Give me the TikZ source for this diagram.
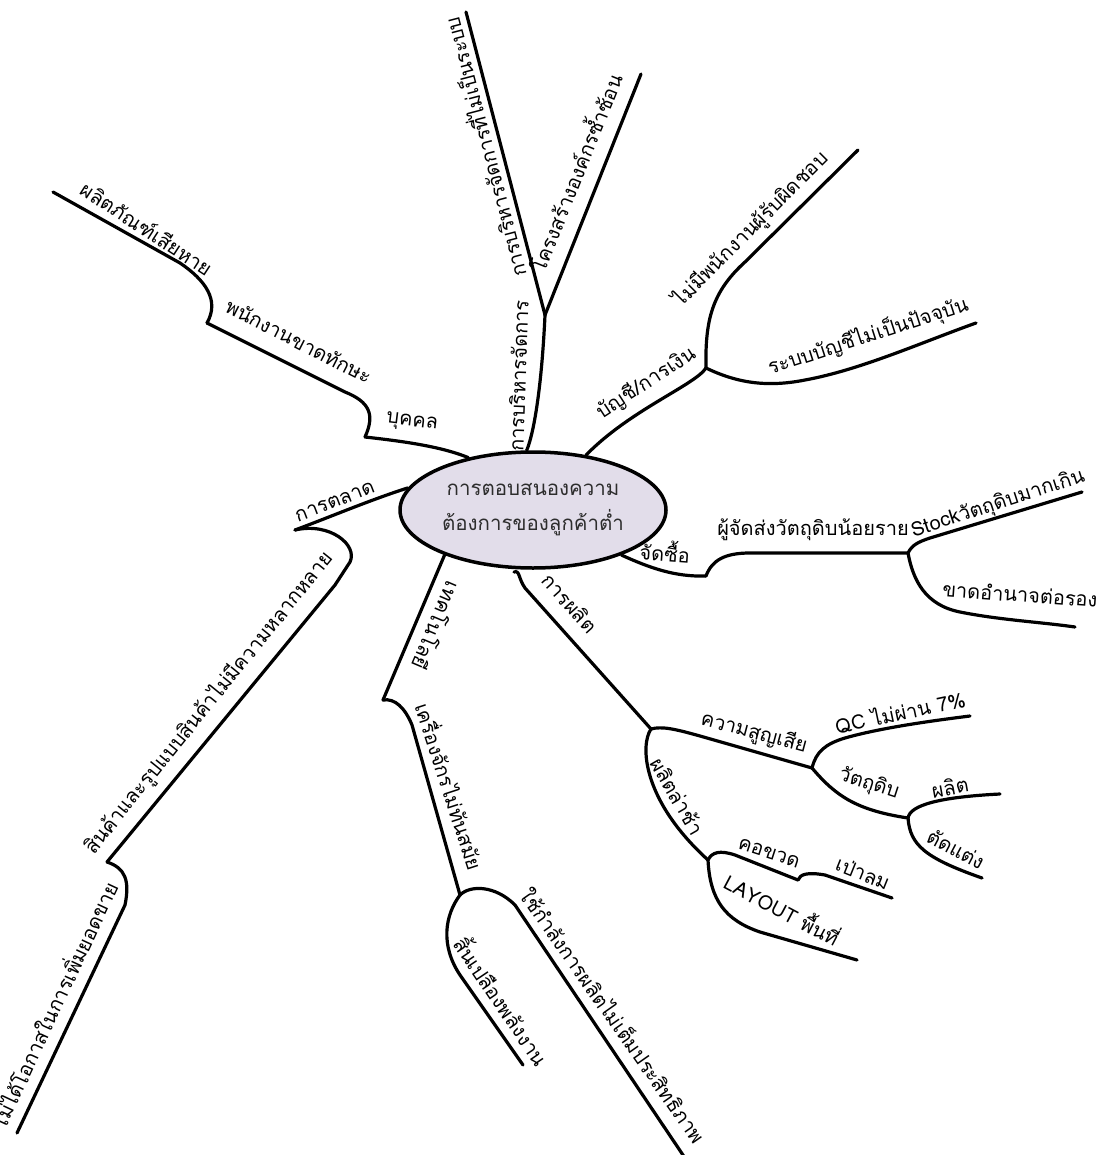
\documentclass[tikz,border=0pt]{standalone}
\usepackage{fontspec}
\newfontfamily\thaifont[Script=Thai]{Loma}
\usetikzlibrary{shapes.geometric}
\definecolor{lav}{RGB}{226,221,234}
\definecolor{inktext}{RGB}{45,45,45}
\begin{document}
\begin{tikzpicture}[x=1pt,y=-1pt,
  br/.style={line width=3.2pt, line cap=round, line join=round},
  lbl/.style={font=\thaifont\fontsize{20}{22}\selectfont, inner sep=0pt}]
\fill[white] (0,0) rectangle (1099,1155);
\useasboundingbox (0,0) rectangle (1099,1155);

% central topic
\node[draw, ellipse, line width=3.5pt, fill=lav, minimum width=266pt, minimum height=116pt,
      inner sep=0pt, align=center, text=inktext,
      font=\thaifont\fontsize{20.5}{35}\selectfont] (root) at (533,510)
      {การตอบสนองความ\\ต้องการของลูกค้าต่ำ};

% junction coordinates
\coordinate (m1) at (545,315);
\coordinate (m1a) at (466,12);
\coordinate (m1b) at (641,74);
\coordinate (f1) at (706,368);
\coordinate (fa1) at (745,262);
\coordinate (fa) at (858,150);
\coordinate (fb1) at (805,380);
\coordinate (fb) at (976,323);
\coordinate (p1) at (365,437);
\coordinate (p1b) at (345,392);
\coordinate (p2) at (207,323);
\coordinate (p2b) at (180,263);
\coordinate (p3) at (53,192);
\coordinate (k1) at (295,530);
\coordinate (k1b) at (335,585);
\coordinate (k2) at (107,862);
\coordinate (k2b) at (125,905);
\coordinate (k3) at (17,1133);
\coordinate (j1) at (706,576);
\coordinate (j1b) at (750,553);
\coordinate (j2) at (908,553);
\coordinate (j2a) at (930,538);
\coordinate (ja) at (1082,492);
\coordinate (j2b) at (960,612);
\coordinate (jb) at (1075,627);
\coordinate (pr0) at (514,572);
\coordinate (pr0b) at (525,588);
\coordinate (pr1) at (651,729);
\coordinate (pr1b) at (700,736);
\coordinate (pr2) at (812,768);
\coordinate (pr2a) at (845,738);
\coordinate (prA) at (970,716);
\coordinate (pr3) at (908,818);
\coordinate (prB) at (1000,794);
\coordinate (prC) at (982,878);
\coordinate (pr4) at (708,860);
\coordinate (pr4b) at (735,855);
\coordinate (pr5) at (798,880);
\coordinate (pr5b) at (825,875);
\coordinate (pr6) at (892,898);
\coordinate (pr4c) at (760,932);
\coordinate (pr7) at (857,960);
\coordinate (t1) at (383,700);
\coordinate (t1b) at (412,725);
\coordinate (t2) at (460,895);
\coordinate (t2b) at (460,975);
\coordinate (t3) at (523,1065);
\coordinate (t2c) at (515,905);
\coordinate (t4) at (685,1158);

% management
\draw[br] (root.96) .. controls (535,430) and (542,380) .. (m1);
\draw[br] (m1) -- (m1a);
\draw[br] (m1) -- (m1b);
% finance
\draw[br] (root.46) .. controls (630,410) and (695,385) .. (f1);
\draw[br] (f1) .. controls (705,320) and (712,292) .. (fa1) -- (fa);
\draw[br] (f1) .. controls (735,382) and (765,388) .. (fb1) .. controls (860,370) and (920,343) .. (fb);
% person
\draw[br] (p1) .. controls (400,441) and (440,446) .. (root.141);
\draw[br] (p1) .. controls (375,415) and (370,402) .. (p1b) -- (p2);
\draw[br] (p2) .. controls (220,300) and (205,280) .. (p2b) -- (p3);
% marketing
\draw[br] (k1) .. controls (330,517) and (370,500) .. (root.170);
\draw[br] (k1) .. controls (330,522) and (358,545) .. (350,562) -- (k1b) -- (k2);
\draw[br] (k2) .. controls (125,868) and (130,880) .. (k2b) -- (k3);
% purchasing
\draw[br] (root.-27) .. controls (650,568) and (675,577) .. (j1);
\draw[br] (j1) .. controls (712,560) and (725,553) .. (j1b) -- (j2);
\draw[br] (j2) .. controls (912,545) and (918,542) .. (j2a) -- (ja);
\draw[br] (j2) .. controls (913,580) and (925,605) .. (j2b) .. controls (1000,620) and (1040,622) .. (jb);
% production
\draw[br] (pr0) .. controls (520,570) and (518,578) .. (pr0b) -- (pr1);
\draw[br] (pr1) .. controls (662,726) and (675,729) .. (pr1b) -- (pr2);
\draw[br] (pr2) .. controls (816,752) and (825,744) .. (pr2a) .. controls (880,728) and (930,721) .. (prA);
\draw[br] (pr2) .. controls (835,795) and (855,810) .. (pr3);
\draw[br] (pr3) .. controls (910,805) and (940,797) .. (prB);
\draw[br] (pr3) .. controls (910,845) and (925,858) .. (prC);
\draw[br] (pr1) .. controls (640,745) and (642,800) .. (pr4);
\draw[br] (pr4) .. controls (712,852) and (720,850) .. (pr4b) -- (pr5);
\draw[br] (pr5) .. controls (800,874) and (808,872) .. (pr5b) -- (pr6);
\draw[br] (pr4) .. controls (710,900) and (725,920) .. (pr4c) -- (pr7);
% technology
\draw[br] (root.207) -- (t1);
\draw[br] (t1) .. controls (395,698) and (405,708) .. (t1b) -- (t2);
\draw[br] (t2) .. controls (445,915) and (440,945) .. (t2b) -- (t3);
\draw[br] (t2) .. controls (470,885) and (495,885) .. (t2c) -- (t4);

% labels
\node[lbl, rotate=88] (Lm) at (518,376) {การบริหารจัดการ};
\node[lbl, rotate=104.7] (Lma) at (483,148) {การบริหารจัดการที่ไม่เป็นระบบ};
\node[lbl, rotate=68] (Lmb) at (574,172) {โครงสร้างองค์กรซ้ำซ้อน};
\node[lbl, rotate=33] (Lf) at (646,383) {บัญชี/การเงิน};
\node[lbl, rotate=45] (Lfa) at (751,229) {ไม่มีพนักงานผู้รับผิดชอบ};
\node[lbl, rotate=18] (Lfb) at (868,336) {ระบบบัญชีไม่เป็นปัจจุบัน};
\node[lbl, rotate=-7] (Lp) at (412,423) {บุคคล};
\node[lbl, rotate=-27] (Lp2) at (299,341) {พนักงานขาดทักษะ};
\node[lbl, rotate=-33] (Lp3) at (147,228) {ผลิตภัณฑ์เสียหาย};
\node[lbl, rotate=21] (Lk) at (335,502) {การตลาด};
\node[lbl, rotate=51] (Lk2) at (209,703) {สินค้าและรูปแบบสินค้าไม่มีความหลากหลาย};
\node[lbl, rotate=65, anchor=east] (Lk3) at (110,882) {ไม่ได้โอกาสในการเพิ่มยอดขาย};
\node[lbl, rotate=-4] (Lj) at (665,551) {จัดซื้อ};
\node[lbl] (Lj2) at (813,530) {ผู้จัดส่งวัตถุดิบน้อยราย};
\node[lbl, rotate=18] (Lja) at (998,504) {Stockวัตถุดิบมากเกิน};
\node[lbl, rotate=-4] (Ljb) at (1020,594) {ขาดอำนาจต่อรอง};
\node[lbl, rotate=-48] (Lpr) at (570,603) {การผลิต};
\node[lbl, rotate=-15] (Lpr2) at (754,733) {ความสูญเสีย};
\node[lbl, rotate=12] (LprA) at (900,712) {QC ไม่ผ่าน 7\%};
\node[lbl, rotate=-18] (Lpr3) at (869,784) {วัตถุดิบ};
\node[lbl, rotate=10] (LprB) at (950,787) {ผลิต};
\node[lbl, rotate=-28] (LprC) at (956,849) {ตัดแต่ง};
\node[lbl, rotate=-60] (Lpr4) at (678,796) {ผลิตล่าช้า};
\node[lbl, rotate=-18] (Lpr5) at (769,853) {คอขวด};
\node[lbl, rotate=-22] (Lpr6) at (863,873) {เป่าลม};
\node[lbl, rotate=-28] (Lpr7) at (783,908) {LAYOUT พื้นที่};
\node[lbl, rotate=-113] (Lt) at (437,626) {เทคโนโลยี};
\node[lbl, rotate=-72] (Lt2) at (451,786) {เครื่องจักรไม่ทันสมัย};
\node[lbl, rotate=-56] (Lt3) at (503,1000) {สิ้นเปลืองพลังงาน};
\node[lbl, rotate=-55] (Lt4) at (614,1015) {ใช้กำลังการผลิตไม่เต็มประสิทธิภาพ};
\end{tikzpicture}
\end{document}
